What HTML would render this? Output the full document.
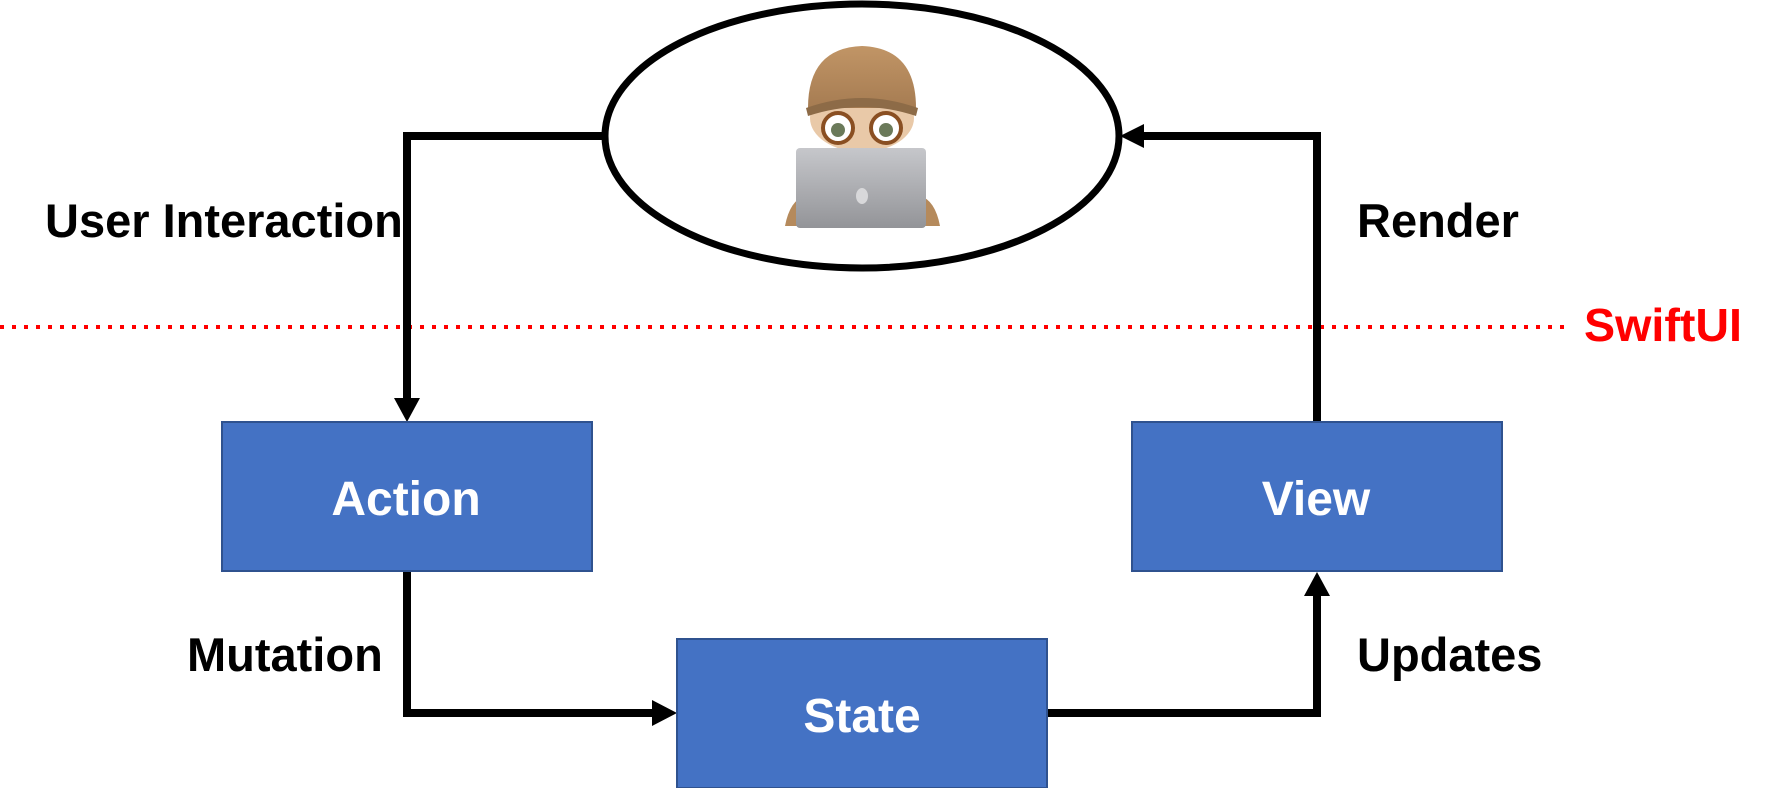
<!DOCTYPE html>
<html><head><meta charset="utf-8"><style>
html,body{margin:0;padding:0;background:#fff;}
svg{display:block;}
</style></head><body>
<svg width="1776" height="788" viewBox="0 0 1776 788" xmlns="http://www.w3.org/2000/svg">
<defs>
<linearGradient id="lap" x1="0" y1="0" x2="0" y2="1"><stop offset="0" stop-color="#c6c7cb"/><stop offset="1" stop-color="#939498"/></linearGradient>
<linearGradient id="cap" x1="0" y1="0" x2="0" y2="1"><stop offset="0" stop-color="#c19566"/><stop offset="1" stop-color="#a67c52"/></linearGradient>
</defs>
<line x1="0" y1="327" x2="1565" y2="327" stroke="#ff0000" stroke-width="4" stroke-dasharray="4 8"/>
<text x="1584" y="341" font-family="Liberation Sans, sans-serif" font-weight="bold" font-size="46" fill="#ff0000" textLength="158" lengthAdjust="spacingAndGlyphs">SwiftUI</text>

<ellipse cx="862" cy="136" rx="257" ry="132" fill="#fff" stroke="#000" stroke-width="7"/>

<g>
<path d="M785 226 Q790 200 805 196 L920 196 Q935 200 940 226 Z" fill="#b58a5c"/>
<ellipse cx="862" cy="118" rx="52" ry="34" fill="#e9c9a8"/>
<path d="M808 108 Q808 48 862 46 Q916 48 916 108 Z" fill="url(#cap)"/>
<path d="M806 108 Q862 88 918 108 L916 116 Q862 98 808 116 Z" fill="#8d6b47"/>
<circle cx="838" cy="128" r="15" fill="#fff" stroke="#8a4f22" stroke-width="4"/>
<circle cx="886" cy="128" r="15" fill="#fff" stroke="#8a4f22" stroke-width="4"/>
<circle cx="838" cy="130" r="7" fill="#6b7a5a"/>
<circle cx="886" cy="130" r="7" fill="#6b7a5a"/>
<rect x="796" y="148" width="130" height="80" rx="4" fill="url(#lap)"/>
<ellipse cx="862" cy="196" rx="6" ry="8" fill="#d8d8da"/>
</g>

<g stroke="#000" stroke-width="8" fill="none">
<polyline points="604,136 407,136 407,402"/>
<polyline points="1317,421 1317,136 1140,136"/>
<polyline points="407,571 407,713 655,713"/>
<polyline points="1047,713 1317,713 1317,592"/>
</g>
<g fill="#000">
<polygon points="394,398 420,398 407,422"/>
<polygon points="1144,124 1144,148 1120,136"/>
<polygon points="652,700 652,726 677,713"/>
<polygon points="1304,596 1330,596 1317,572"/>
</g>

<g fill="#4472c4" stroke="#2f528f" stroke-width="2">
<rect x="222" y="422" width="370" height="149"/>
<rect x="1132" y="422" width="370" height="149"/>
<rect x="677" y="639" width="370" height="149"/>
</g>
<g font-family="Liberation Sans, sans-serif" font-weight="bold" font-size="48" fill="#fff" text-anchor="middle">
<text x="406" y="515">Action</text>
<text x="1316" y="515">View</text>
<text x="862" y="732">State</text>
</g>
<g font-family="Liberation Sans, sans-serif" font-weight="bold" font-size="47" fill="#000">
<text x="45" y="237">User Interaction</text>
<text x="1357" y="237">Render</text>
<text x="187" y="671">Mutation</text>
<text x="1357" y="671">Updates</text>
</g>
</svg>
</body></html>
